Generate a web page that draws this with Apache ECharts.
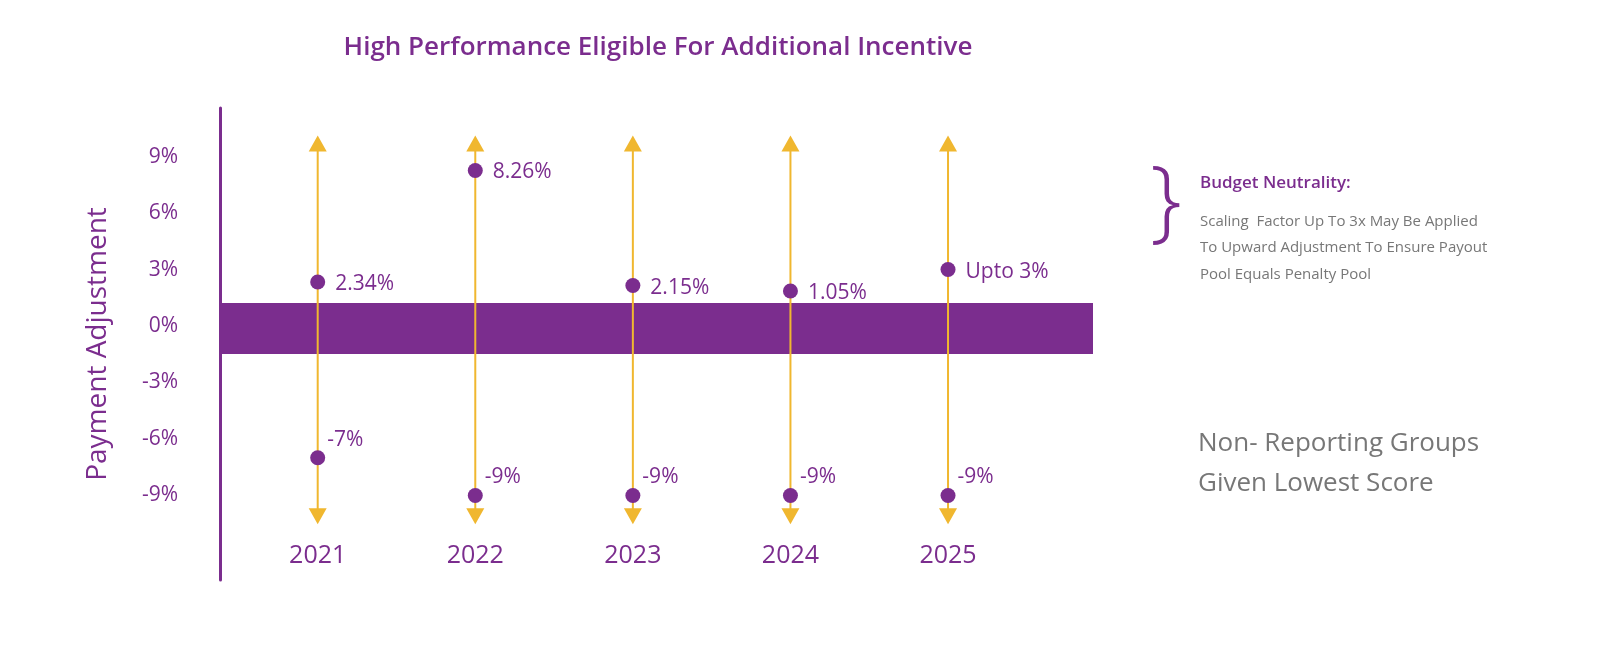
<!DOCTYPE html>
<html>
<head>
<meta charset="utf-8">
<script src="https://cdn.jsdelivr.net/npm/echarts@6/dist/echarts.min.js"></script>
<style>
html,body{margin:0;padding:0;background:#fff;}
#chart{width:1600px;height:651px;}
</style>
</head>
<body>
<div id="chart"></div>
<script>
var years = [2021, 2022, 2023, 2024, 2025];
var upValues = [2.34, 8.26, 2.15, 1.86, 3];
var upLabels = ['2.34%', '8.26%', '2.15%', '1.05%', 'Upto 3%'];
var downValues = [-7, -9, -9, -9, -9];
var downLabels = ['-7%', '-9%', '-9%', '-9%', '-9%'];
var yTicks = [-9, -6, -3, 0, 3, 6, 9];
var arrowTop = 9.7;
var arrowBottom = -10.1;

var purple = '#7B2D8E';
var gold = '#F0B72F';
var font = 'Open Sans';

var series = [];
// 0% band
series.push({
	type: 'line', data: [], silent: true,
	markArea: {
		silent: true,
		itemStyle: { color: purple, opacity: 1 },
		data: [[{ xAxis: 2020.38, yAxis: 1.22 }, { xAxis: 2025.92, yAxis: -1.49 }]]
	}
});
// arrows
for (var i = 0; i < years.length; i++) {
	series.push({
		type: 'line',
		data: [[years[i], arrowBottom], [years[i], arrowTop]],
		lineStyle: { color: gold, width: 2 },
		itemStyle: { color: gold },
		symbol: 'triangle',
		symbolSize: [18, 16],
		symbolRotate: function (v) { return v[1] < 0 ? 180 : 0; },
		z: 3
	});
}
// points
series.push({
	type: 'scatter',
	data: years.map(function (y, i) { return [y, upValues[i], upLabels[i]]; }),
	symbolSize: 15,
	itemStyle: { color: purple, opacity: 1 },
	z: 5,
	label: {
		show: true, position: 'right', distance: 10,
		formatter: function (p) { return p.data[2]; },
		color: purple, fontSize: 21, fontWeight: 500, fontFamily: font, offset: [0, 2]
	}
});
series.push({
	type: 'scatter',
	data: years.map(function (y, i) { return [y, downValues[i], downLabels[i]]; }),
	symbolSize: 15,
	itemStyle: { color: purple, opacity: 1 },
	z: 5,
	label: {
		show: true, position: 'right', distance: 2,
		formatter: function (p) { return p.data[2]; },
		color: purple, fontSize: 21, fontWeight: 500, fontFamily: font, offset: [0, -18]
	}
});

var chart = echarts.init(document.getElementById('chart'));
chart.setOption({
	animation: false,
	title: {
		text: 'High Performance Eligible For Additional Incentive',
		left: 653, top: 30, textAlign: 'center',
		textStyle: { color: purple, fontSize: 26, fontWeight: 600, fontFamily: font }
	},
	grid: { left: 220, right: 507, top: 108, bottom: 71 },
	xAxis: {
		type: 'value', min: 2020.38, max: 2025.92,
		splitLine: { show: false },
		axisLine: { show: false },
		axisTick: { show: false },
		axisLabel: {
			inside: true, margin: 12, customValues: years,
			color: purple, fontSize: 25, fontWeight: 500, fontFamily: font,
			formatter: function (v) { return String(v); }
		}
	},
	yAxis: {
		type: 'value', min: -13.49, max: 11.58,
		name: 'Payment Adjustment', nameLocation: 'middle', nameGap: 108,
		nameTextStyle: { color: purple, fontSize: 28, fontWeight: 500, fontFamily: font },
		splitLine: { show: false },
		axisLine: { show: true, lineStyle: { color: purple, width: 3 } },
		axisTick: { show: false },
		axisLabel: {
			customValues: yTicks, margin: 42,
			color: purple, fontSize: 21, fontWeight: 500, fontFamily: font,
			formatter: function (v) { return v + '%'; }
		}
	},
	graphic: [
		{ type: 'text', left: 1150, top: 160, style: { text: '}', fontSize: 90, fill: purple, fontFamily: font, fontWeight: 300 } },
		{ type: 'text', left: 1200, top: 175, style: { text: 'Budget Neutrality:', fontSize: 17, fill: purple, fontFamily: font, fontWeight: 600 } },
		{ type: 'text', left: 1200, top: 208, style: { text: 'Scaling  Factor Up To 3x May Be Applied\nTo Upward Adjustment To Ensure Payout\nPool Equals Penalty Pool', fontSize: 15, lineHeight: 26.5, fill: '#777', fontFamily: font } },
		{ type: 'text', left: 1198, top: 424, style: { text: 'Non- Reporting Groups\nGiven Lowest Score', fontSize: 26, lineHeight: 40, fill: '#777', fontFamily: font } }
	],
	series: series
});
</script>
</body>
</html>
